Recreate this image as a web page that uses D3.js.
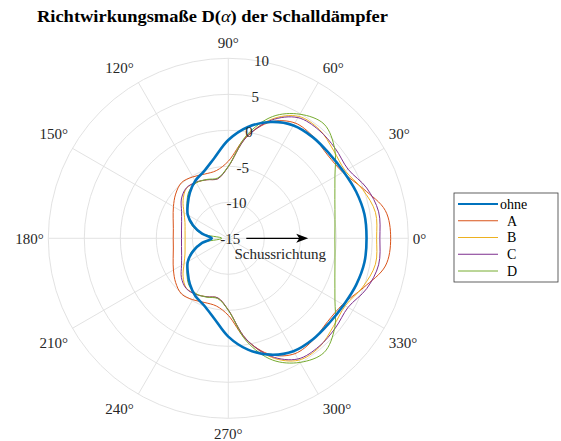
<!DOCTYPE html>
<html>
<head>
<meta charset="utf-8">
<script src="https://cdn.jsdelivr.net/npm/d3@7"></script>
<style>
  body { margin: 0; background: #fff; }
  text { font-family: "Liberation Serif", "DejaVu Serif", serif; fill: #262626; }
</style>
</head>
<body>
<svg id="chart" width="561" height="441"></svg>
<script>
// Angles (degrees) the directivity was read at
const angles = [0, 10, 20, 30, 40, 50, 60, 70, 80, 90, 100, 110, 120, 130, 140, 150, 160, 170,
                180, 190, 200, 210, 220, 230, 240, 250, 260, 270, 280, 290, 300, 310, 320, 330, 340, 350];

// D(alpha) in dB for each silencer
const ohne = [4.2, 4.2, 3.9, 3.5, 3.3, 3.3, 3.1, 2.2, 0.7, -1.35, -3.7, -5.1, -5.8, -6.7, -7.65, -8.5, -9.8, -11.3,
              -12.7, -11.3, -9.8, -8.5, -7.65, -6.7, -5.8, -5.1, -3.7, -1.35, 0.7, 2.2, 3.1, 3.3, 3.3, 3.5, 3.9, 4.2];
const serA = [7.55, 7.15, 5.0, 3.35, 3.0, 3.4, 3.5, 2.2, -0.7, -4.3, -5.45, -5.5, -5.15, -4.9, -5.45, -6.2, -6.85, -7.25,
              -7.35, -7.25, -6.85, -6.2, -5.45, -4.9, -5.15, -5.5, -5.45, -4.3, -0.7, 2.2, 3.5, 3.4, 3.0, 3.35, 5.0, 7.15];
const serB = [5.6, 5.75, 4.85, 3.75, 4.05, 4.7, 4.55, 2.6, -0.8, -5.05, -6.6, -6.35, -6.05, -5.95, -6.8, -7.9, -8.6, -8.9,
              -9.0, -8.9, -8.6, -7.9, -6.8, -5.95, -6.05, -6.35, -6.6, -5.05, -0.8, 2.6, 4.55, 4.7, 4.05, 3.75, 4.85, 5.75];
const serC = [6.05, 6.2, 5.45, 4.2, 4.4, 4.6, 4.35, 2.45, -0.8, -5.05, -6.6, -6.35, -6.0, -5.9, -6.5, -7.5, -8.1, -8.4,
              -8.5, -8.4, -8.1, -7.5, -6.5, -5.9, -6.0, -6.35, -6.6, -5.05, -0.8, 2.45, 4.35, 4.6, 4.4, 4.2, 5.45, 6.2];
const serD = [-0.2, 0.05, 0.75, 2.1, 4.3, 5.7, 4.9, 3.0, -0.5, -5.0, -6.5, -6.3, -6.1, -6.5, -7.5, -8.5, -9.6, -11.2,
              -14.1, -11.2, -9.6, -8.5, -7.5, -6.5, -6.1, -6.3, -6.5, -5.0, -0.5, 3.0, 4.9, 5.7, 4.3, 2.1, 0.75, 0.05];

const seriesNames = ['ohne', 'A', 'B', 'C', 'D'];
const seriesValues = [ohne, serA, serB, serC, serD];
const seriesColors = ['#0072BD', '#D95319', '#EDB120', '#7E2F8E', '#77AC30'];
const seriesWidths = [2.6, 1, 1, 1, 1];

// Axis ticks
const rTicks = [-15, -10, -5, 0, 5, 10];
const thetaTicks = [0, 30, 60, 90, 120, 150, 180, 210, 240, 270, 300, 330];

const titleText = 'Richtwirkungsmaße D(α) der Schalldämpfer';
const arrowLabel = 'Schussrichtung';
const arrowRange = [-12.5, -3.9];

const svg = d3.select('#chart');
const cx = 228.3, cy = 238.3, R = 180;
const rad = deg => deg * Math.PI / 180;

const r = d3.scaleLinear().domain([-15, 10]).range([0, R]);

const g = svg.append('g').attr('transform', `translate(${cx},${cy})`);

// Grid circles
g.append('g')
  .selectAll('circle')
  .data(rTicks.slice(1))
  .join('circle')
  .attr('r', d => r(d))
  .attr('fill', 'none')
  .attr('stroke', '#dfdfdf')
  .attr('stroke-width', 0.9);

// Spokes
g.append('g')
  .selectAll('line')
  .data(thetaTicks)
  .join('line')
  .attr('x1', 0).attr('y1', 0)
  .attr('x2', d => R * Math.cos(rad(d)))
  .attr('y2', d => -R * Math.sin(rad(d)))
  .attr('stroke', '#dfdfdf')
  .attr('stroke-width', 0.9);

// Series curves (thin ones first, thick blue on top of them)
const line = d3.lineRadial()
  .angle(d => Math.PI / 2 - rad(d[0]))
  .radius(d => r(d[1]))
  .curve(d3.curveCatmullRomClosed.alpha(0.5));

const order = [1, 2, 3, 4, 0];
g.append('g')
  .selectAll('path')
  .data(order)
  .join('path')
  .attr('d', i => line(angles.map((a, k) => [a, seriesValues[i][k]])))
  .attr('fill', 'none')
  .attr('stroke', i => seriesColors[i])
  .attr('stroke-width', i => seriesWidths[i]);

// Shooting direction arrow
const ax0 = r(arrowRange[0]), ax1 = r(arrowRange[1]);
g.append('line')
  .attr('x1', ax0).attr('y1', 0)
  .attr('x2', ax1 - 8).attr('y2', 0)
  .attr('stroke', '#000')
  .attr('stroke-width', 1.2);
g.append('path')
  .attr('d', `M${ax1},0 L${ax1 - 12},-4.5 L${ax1 - 9},0 L${ax1 - 12},4.5 Z`)
  .attr('fill', '#000');
g.append('text')
  .attr('x', (ax0 + ax1) / 2 + 3)
  .attr('y', 21)
  .attr('text-anchor', 'middle')
  .style('font-size', '15px')
  .text(arrowLabel);

// Radial tick labels along 80 degrees
g.append('g')
  .selectAll('text')
  .data(rTicks)
  .join('text')
  .attr('x', d => r(d) * Math.cos(rad(80)) + 2)
  .attr('y', d => -r(d) * Math.sin(rad(80)))
  .attr('dy', '0.35em')
  .attr('text-anchor', 'middle')
  .style('font-size', '15px')
  .text(d => d);

// Angular tick labels: box pushed outward from the end of each spoke
const thetaLabels = g.append('g')
  .selectAll('text')
  .data(thetaTicks)
  .join('text')
  .attr('dy', '0.35em')
  .attr('text-anchor', 'middle')
  .style('font-size', '15px')
  .text(d => d + '°');
thetaLabels.each(function(d) {
  const w = this.getComputedTextLength();
  const c = Math.cos(rad(d)), s = Math.sin(rad(d));
  const ox = Math.abs(c) > 0.1 ? Math.sign(c) * (w / 2 + 4.5) : 0;
  const oy = Math.abs(s) > 0.1 ? -Math.sign(s) * (Math.abs(s) > 0.9 ? 15.5 : 14.8) : 0;
  d3.select(this)
    .attr('x', R * c + ox)
    .attr('y', -R * s + oy);
});

// Title
const title = svg.append('text')
  .attr('x', 212.5)
  .attr('y', 22)
  .attr('text-anchor', 'middle')
  .attr('textLength', 351)
  .attr('lengthAdjust', 'spacingAndGlyphs')
  .style('font-size', '17px')
  .style('font-weight', 'bold')
  .style('fill', '#000');
const parts = titleText.split('α');
title.append('tspan').text(parts[0]);
title.append('tspan').style('font-style', 'italic').style('font-weight', 'normal').text('α');
title.append('tspan').text(parts[1]);

// Legend
const legend = svg.append('g').attr('transform', 'translate(454,193)');
legend.append('rect')
  .attr('width', 104).attr('height', 89)
  .attr('fill', '#fff')
  .attr('stroke', '#3a3a3a')
  .attr('stroke-width', 0.8);
const items = legend.selectAll('g.item')
  .data(seriesNames)
  .join('g')
  .attr('class', 'item')
  .attr('transform', (d, i) => `translate(0,${11 + i * 16.75})`);
items.append('line')
  .attr('x1', 4).attr('x2', 44)
  .attr('stroke', (d, i) => seriesColors[i])
  .attr('stroke-width', (d, i) => i === 0 ? 2 : 1);
items.append('text')
  .attr('x', (d, i) => i === 0 ? 46 : 53)
  .attr('dy', '0.35em')
  .style('font-size', '14px')
  .style('fill', '#000')
  .text(d => d);
</script>
</body>
</html>
